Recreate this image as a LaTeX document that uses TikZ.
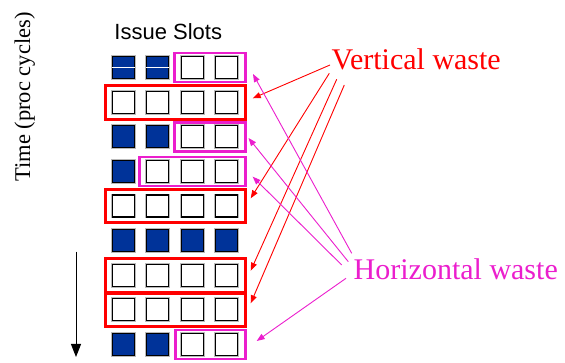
\documentclass[tikz,border=0pt]{standalone}
\usepackage{fontspec}
\setmainfont{Liberation Serif}
\newfontfamily\arialfont{Liberation Sans}
\usetikzlibrary{arrows.meta}
\definecolor{slotblue}{RGB}{0,51,153}
\definecolor{wmag}{RGB}{235,30,205}
\definecolor{wred}{RGB}{255,0,0}
\tikzset{
  slot/.style={minimum size=22pt, inner sep=0pt, draw=black, line width=1.2pt,
    preaction={draw=gray!55, line width=2.8pt}},
  busy/.style={slot, fill=slotblue},
  idle/.style={slot, fill=white},
  hbox/.style={draw=wmag, line width=2.6pt},
  vbox/.style={draw=wred, line width=3pt},
  varrow/.style={draw=wred, line width=0.9pt, -{Triangle[length=8pt,width=6pt]}},
  harrow/.style={draw=wmag, line width=0.9pt, -{Triangle[length=8pt,width=6pt]}},
  waste/.style={font=\fontsize{30}{32}\selectfont, inner sep=0pt, anchor=base west},
}
\begin{document}
\begin{tikzpicture}[x=1pt,y=-1pt]
\useasboundingbox (0,0) rectangle (565,363);
% boxes
\foreach \r/\l in {1/174.5,3/174.5,4/139.5,9/175.5}{
  \pgfmathsetmacro{\yc}{67.7+34.6*(\r-1)}
  \draw[hbox] (\l,\yc-14.5) rectangle (245.3,\yc+14.5);
}
\foreach \r in {2,5,7,8}{
  \pgfmathsetmacro{\yc}{67.7+34.6*(\r-1)}
  \draw[vbox] (105.5,\yc-16.8) rectangle (245.2,\yc+16.8);
}
% slots
\foreach \r/\pat in {1/{b,b,i,i},2/{i,i,i,i},3/{b,b,i,i},4/{b,i,i,i},5/{i,i,i,i},6/{b,b,b,b},7/{i,i,i,i},8/{i,i,i,i},9/{b,b,i,i}}{
  \foreach \k [count=\c] in \pat {
    \pgfmathsetmacro{\xc}{123.3+34.5*(\c-1)}
    \pgfmathsetmacro{\yc}{67.7+34.6*(\r-1)}
    \if b\k
      \node[busy] (s\r\c) at (\xc,\yc) {};
    \else
      \node[idle] (s\r\c) at (\xc,\yc) {};
    \fi
  }
}
\draw[white, line width=0.6pt] (s11.west) -- (s11.east);
\draw[white, line width=0.6pt] (s12.west) -- (s12.east);
% labels
\node[font=\arialfont\fontsize{22}{24}\selectfont, anchor=base, inner sep=0pt] (issue) at (168.3,40) {Issue Slots};
\node[font=\fontsize{22.5}{24}\selectfont, rotate=90, anchor=base, inner sep=0pt] (time) at (30,97) {Time (proc cycles)};
\coordinate (tstart) at (76,251.7);
\coordinate (tend) at (76,357);
\draw[line width=1pt, -{Triangle[length=13pt,width=10pt]}] (tstart) -- (tend);
\node[waste, text=wred] (vw) at (331.5,69.5) {Vertical waste};
\node[waste, text=wmag] (hw) at (353.5,280) {Horizontal waste};
% vertical waste arrows
\coordinate (v1s) at (330,65);   \coordinate (v1e) at (252.7,98.3);
\coordinate (v2s) at (329.3,73.3); \coordinate (v2e) at (250.7,198.3);
\coordinate (v3s) at (336.7,79.3); \coordinate (v3e) at (250.7,270.7);
\coordinate (v4s) at (344.3,85); \coordinate (v4e) at (250.7,303.3);
\foreach \i in {1,2,3,4} \draw[varrow] (v\i s) -- (v\i e);
% horizontal waste arrows
\coordinate (h1s) at (351.7,253.3); \coordinate (h1e) at (253,74);
\coordinate (h2s) at (348.3,261.7); \coordinate (h2e) at (248.5,138);
\coordinate (h3s) at (341.7,265);   \coordinate (h3e) at (252.7,176.7);
\coordinate (h4s) at (346,278.3);   \coordinate (h4e) at (256.7,341);
\foreach \i in {1,2,3,4} \draw[harrow] (h\i s) -- (h\i e);
\end{tikzpicture}
\end{document}
